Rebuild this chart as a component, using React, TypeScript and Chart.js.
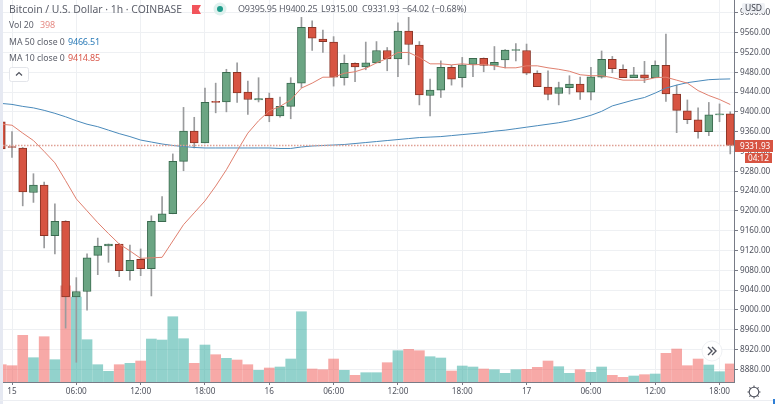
import React, { useEffect, useRef } from "react";
import { Chart, registerables } from "chart.js";

Chart.register(...registerables);

// One value per hourly bar; the first bar sits one hour before the "15" tick.
const opens = [9380,9330,9327,9237,9252,9150,9179,9026,9037,9110,9129,9133,9079,9102,9083,9178,9194,9300,9361,9337,9421,9420,9480,9440,9424,9428,9392,9411,9458,9571,9547,9541,9469,9498,9491,9499,9524,9507,9563,9535,9433,9444,9490,9469,9496,9508,9494,9505,9524,9524,9478,9450,9437,9449,9456,9440,9470,9506,9486,9469,9475,9469,9494,9436,9402,9384,9360,9394,9395.95];
const highs = [9381,9360,9328,9275,9258,9214,9180,9065,9113,9145,9133,9134,9131,9123,9190,9229,9315,9409,9389,9448,9458,9486,9499,9462,9469,9438,9430,9469,9591,9584,9565,9552,9515,9499,9541,9542,9530,9580,9591,9542,9466,9503,9494,9510,9508,9509,9532,9526,9538,9537,9483,9483,9460,9473,9470,9490,9523,9512,9495,9490,9502,9503,9557,9454,9424,9408,9419,9416,9400.25];
const lows = [9325,9308,9210,9217,9125,9113,8963,8894,8999,9071,9096,9067,9060,9069,9028,9178,9194,9281,9327,9337,9398,9400,9419,9395,9420,9380,9389,9386,9449,9524,9520,9452,9454,9461,9485,9499,9483,9471,9495,9414,9392,9429,9454,9450,9471,9481,9485,9489,9503,9475,9451,9424,9414,9436,9425,9424,9468,9479,9469,9469,9459,9469,9421,9358,9376,9347,9352,9380,9315];
const closes = [9325,9328,9238,9252,9150,9179,9026,9037,9105,9129,9133,9079,9100,9083,9179,9194,9300,9361,9337,9419,9419,9480,9438,9425,9427,9392,9411,9458,9571,9549,9542,9470,9498,9491,9499,9524,9507,9563,9536,9434,9444,9490,9466,9495,9508,9494,9500,9525,9526,9478,9451,9435,9449,9456,9440,9471,9506,9487,9469,9475,9468,9494,9436,9403,9384,9360,9394,9396,9331.93];
const volumes = [381,359,1027,535,997,491,2119,1870,931,381,235,381,411,462,946,924,1437,953,411,814,601,521,484,381,257,308,330,506,1547,286,271,506,257,147,205,205,425,689,719,689,557,528,242,352,330,286,271,191,271,279,323,462,337,191,271,213,330,147,103,132,161,176,631,726,359,506,374,227,398];
const ma50 = [9417,9415,9411,9408,9403,9397,9390,9382,9375,9370,9363,9356,9350,9343,9339,9335,9332,9330,9328,9327,9327,9327,9327,9327,9327,9327,9326,9326,9329,9331,9332,9333,9334,9336,9338,9340,9342,9344,9346,9348,9349,9350,9352,9354,9356,9358,9361,9363,9366,9369,9372,9375,9378,9382,9387,9393,9401,9412,9418,9424,9429,9438,9448,9454,9459,9462,9465,9466,9466.51];
const ma10 = [9375,9373,9357,9342,9320,9297,9261,9224,9200,9176,9154,9133,9119,9104,9105,9106,9139,9172,9196,9220,9250,9283,9321,9357,9382,9402,9411,9424,9448,9458,9470,9470,9478,9481,9488,9499,9508,9520,9520,9510,9497,9497,9495,9497,9495,9496,9493,9489,9489,9493,9493,9489,9486,9482,9475,9473,9473,9469,9464,9464,9464,9469,9470,9464,9458,9443,9433,9425,9414.85];

const priceTicks = [8880,8920,8960,9000,9040,9080,9120,9160,9200,9240,9280,9320,9360,9400,9440,9480,9520,9560,9600];
const timeTickIndexes = [0,6,12,18,24,30,36,42,48,54,60,66];
const timeTickLabels = ["15","06:00","12:00","18:00","16","06:00","12:00","18:00","17","06:00","12:00","18:00"];

const lastClose = 9331.93;
const countdown = "04:12";
const seriesTitle = "Bitcoin / U.S. Dollar · 1h · COINBASE";
const ohlcLabels = [
  { text: "O9395.95", left: 238 },
  { text: "H9400.25", left: 279 },
  { text: "L9315.00", left: 321 },
  { text: "C9331.93", left: 362 },
  { text: "−64.02", left: 402 },
  { text: "(−0.68%)", left: 432 },
];

const UP = "#6ba583", UP_EDGE = "#3a6a4f";
const DOWN = "#d75442", DOWN_EDGE = "#8a3426";
const VOL_UP = "rgba(38,166,154,0.5)", VOL_DOWN = "rgba(239,83,80,0.5)";
const WICK = "#9a9b9d";
const GRID = "#eef0f3";
const AXIS = "#787b86";
const LABEL = "#50535e";
const FONT = "'Noto Sans', 'Open Sans', sans-serif";

const xOf = (pos: number) => pos - 1;
const isUp = (pos: number) => closes[pos] >= opens[pos];

const framePlugin = {
  id: "frame",
  beforeDraw(chart: any) {
    const { ctx, width, height } = chart;
    ctx.save();
    ctx.fillStyle = "#ffffff";
    ctx.fillRect(0, 0, width, height);
    ctx.fillStyle = "#e6e9f2";
    ctx.fillRect(0, 0, 3, height);
    ctx.fillStyle = "#eceef2";
    ctx.fillRect(0, 400, width, 1);
    ctx.restore();
  },
  afterDraw(chart: any) {
    const { ctx } = chart;
    const y = chart.scales.y.getPixelForValue(lastClose);
    ctx.save();
    ctx.fillStyle = DOWN;
    ctx.fillRect(735, Math.round(y) - 6, 38, 12);
    ctx.fillRect(745, Math.round(y) + 7, 27, 10);
    ctx.fillStyle = "#ffffff";
    ctx.font = `8.2px ${FONT}`;
    ctx.textAlign = "left";
    ctx.textBaseline = "middle";
    ctx.fillText(lastClose.toFixed(2), 740, Math.round(y) + 0.5);
    ctx.textAlign = "center";
    ctx.fillText(countdown, 758.5, Math.round(y) + 12.5);
    ctx.restore();
  },
};

export default function App() {
  const ref = useRef<HTMLCanvasElement | null>(null);

  useEffect(() => {
    if (!ref.current) return;
    const chart = new Chart(ref.current, {
      type: "bar",
      plugins: [framePlugin],
      data: {
        datasets: [
          {
            type: "line",
            label: "Last price",
            data: [{ x: -0.84, y: lastClose }, { x: 67.35, y: lastClose }],
            borderColor: "#dfa094",
            borderWidth: 1.5,
            borderDash: [1.5, 1.5],
            pointRadius: 0,
            yAxisID: "y",
            order: 0,
          },
          {
            type: "line",
            label: "MA 10",
            data: ma10.map((v, i) => ({ x: xOf(i), y: v })),
            borderColor: "#e0806f",
            borderWidth: 1,
            pointRadius: 0,
            tension: 0,
            yAxisID: "y",
            order: 1,
          },
          {
            type: "line",
            label: "MA 50",
            data: ma50.map((v, i) => ({ x: xOf(i), y: v })),
            borderColor: "#4a8abb",
            borderWidth: 1,
            pointRadius: 0,
            tension: 0,
            yAxisID: "y",
            order: 1,
          },
          {
            label: "Body",
            data: opens.map((o, i) => ({ x: xOf(i), y: [o, closes[i]] })),
            backgroundColor: opens.map((_, i) => (isUp(i) ? UP : DOWN)),
            borderColor: opens.map((_, i) => (isUp(i) ? UP_EDGE : DOWN_EDGE)),
            borderWidth: 1,
            borderSkipped: false,
            barThickness: 8,
            grouped: false,
            yAxisID: "y",
            order: 2,
          },
          {
            label: "Wick",
            data: highs.map((h, i) => ({ x: xOf(i), y: [lows[i], h] })),
            backgroundColor: WICK,
            borderWidth: 0,
            barThickness: 1,
            grouped: false,
            yAxisID: "y",
            order: 3,
          },
          {
            label: "Volume",
            data: volumes.map((v, i) => ({ x: xOf(i), y: v })),
            backgroundColor: volumes.map((_, i) => (isUp(i) ? VOL_UP : VOL_DOWN)),
            borderWidth: 0,
            barThickness: 10,
            grouped: false,
            yAxisID: "yVol",
            order: 4,
          },
        ],
      } as any,
      options: {
        responsive: false,
        animation: false,
        events: [],
        layout: { padding: { left: 3, right: 0, top: 0, bottom: 0 } },
        plugins: { legend: { display: false }, tooltip: { enabled: false } },
        scales: {
          x: {
            type: "linear",
            min: -0.84,
            max: 67.35,
            offset: false,
            afterBuildTicks(scale: any) {
              scale.ticks = timeTickIndexes.map((v) => ({ value: v }));
            },
            afterFit(scale: any) {
              scale.height = 22;
              scale.paddingLeft = 0;
              scale.paddingRight = 0;
            },
            grid: { offset: false, color: GRID, tickColor: AXIS, tickLength: 3 },
            border: { color: AXIS },
            ticks: {
              autoSkip: false,
              maxRotation: 0,
              padding: 2,
              color: LABEL,
              font: { family: FONT, size: 8.2 },
              callback(v: any) {
                const k = timeTickIndexes.indexOf(Number(v));
                return k >= 0 ? timeTickLabels[k] : "";
              },
            },
          },
          y: {
            type: "linear",
            position: "right",
            min: 8854.1,
            max: 9626,
            afterBuildTicks(scale: any) {
              scale.ticks = priceTicks.map((v) => ({ value: v }));
            },
            afterFit(scale: any) {
              scale.width = 41;
              scale.paddingTop = 0;
              scale.paddingBottom = 0;
            },
            grid: { color: GRID, tickColor: AXIS, tickLength: 4 },
            border: { color: AXIS },
            ticks: {
              padding: 2,
              color: LABEL,
              font: { family: FONT, size: 8.2 },
              callback: (v: any) => Number(v).toFixed(2),
            },
          },
          yVol: {
            type: "linear",
            display: false,
            min: 0,
            max: 8410,
          },
        },
      } as any,
    });
    return () => chart.destroy();
  }, []);

  const text: React.CSSProperties = {
    position: "absolute",
    fontFamily: FONT,
    whiteSpace: "nowrap",
    lineHeight: "14px",
    color: "#5d606b",
  };
  const value: React.CSSProperties = { ...text, fontSize: 9, letterSpacing: -0.2 };
  const label: React.CSSProperties = { ...text, fontSize: 8.7 };

  return (
    <div style={{ position: "absolute", left: 0, top: 0, width: 775, height: 404, overflow: "hidden", background: "#fff" }}>
      <canvas ref={ref} width={775} height={404} style={{ position: "absolute", left: 0, top: 0, display: "block" }} />

      <div style={{ ...text, left: 9, top: 2, fontSize: 10.4 }}>{seriesTitle}</div>
      <svg style={{ position: "absolute", left: 192, top: 5 }} width={10} height={9}>
        <path d="M0 0H9L6.5 4.5L9 9H0Z" fill="#f2545b" />
      </svg>
      <svg style={{ position: "absolute", left: 213, top: 2 }} width={14} height={14}>
        <circle cx={7} cy={7} r={6.5} fill="#dff1ee" />
        <circle cx={7} cy={7} r={3} fill="#1f9d8b" />
      </svg>
      {ohlcLabels.map((o) => (
        <div key={o.left} style={{ ...value, left: o.left, top: 2 }}>{o.text}</div>
      ))}

      <div style={{ ...label, left: 9, top: 18 }}>Vol 20</div>
      <div style={{ ...value, left: 40, top: 18, color: "#e58b85" }}>398</div>
      <div style={{ ...label, left: 9, top: 35 }}>MA 50 close 0</div>
      <div style={{ ...value, left: 68, top: 35, color: "#2d7cb8" }}>9466.51</div>
      <div style={{ ...label, left: 9, top: 51 }}>MA 10 close 0</div>
      <div style={{ ...value, left: 68, top: 51, color: "#d9574a" }}>9414.85</div>

      <svg style={{ position: "absolute", left: 9, top: 67 }} width={20} height={15}>
        <rect x={0.5} y={0.5} width={19} height={14} rx={2} fill="#fff" stroke="#e3e5ea" />
        <path d="M7 8.5L10 5.5L13 8.5" fill="none" stroke="#50535e" strokeWidth={1.2} />
      </svg>

      <div style={{ position: "absolute", left: 742, top: 3, width: 23, height: 10, borderRadius: 2, background: "#eef0f4", opacity: 0.95 }} />
      <div style={{ ...text, left: 742, top: 0, width: 23, textAlign: "center", fontSize: 8.5, lineHeight: "15px", color: "#3e414b" }}>USD</div>

      <svg style={{ position: "absolute", left: 700, top: 339 }} width={24} height={24}>
        <circle cx={12} cy={12} r={10} fill="#fff" stroke="#eef0f3" />
        <path d="M8 8L12 12L8 16M12 8L16 12L12 16" fill="none" stroke="#50535e" strokeWidth={1.4} />
      </svg>

      <svg style={{ position: "absolute", left: 746, top: 384 }} width={16} height={16}>
        <circle cx={8} cy={8} r={4.8} fill="none" stroke="#50535e" strokeWidth={1.1} />
        <path d="M8 1.5V3.4M8 12.6V14.5M1.5 8H3.4M12.6 8H14.5M3.4 3.4L4.7 4.7M11.3 11.3L12.6 12.6M12.6 3.4L11.3 4.7M3.4 12.6L4.7 11.3" stroke="#50535e" strokeWidth={1.1} />
      </svg>
      <div style={{ position: "absolute", left: 773, top: 399, width: 2, height: 5, background: "#2f7fd6" }} />
    </div>
  );
}
